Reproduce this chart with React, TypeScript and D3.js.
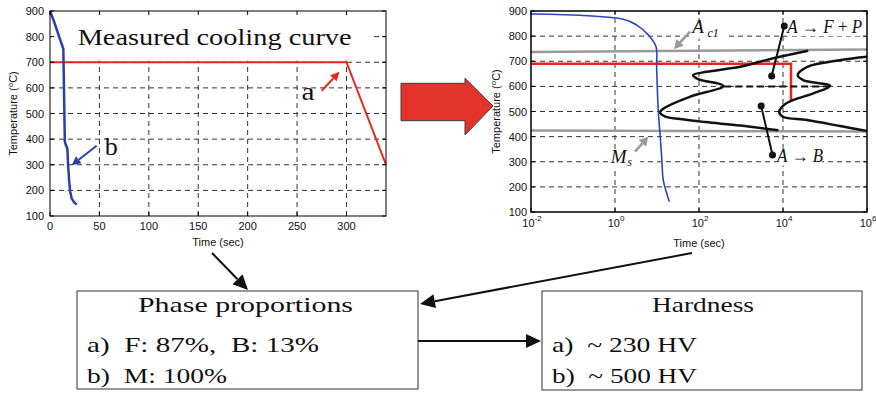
import React from "react";
import * as d3 from "d3";

// ---------- data ----------
const leftXTicks = [0, 50, 100, 150, 200, 250, 300];
const yTicks = [100, 200, 300, 400, 500, 600, 700, 800, 900];
const leftGridX = [50, 100, 150, 200, 250, 300];
const gridY = [200, 300, 400, 500, 600, 700, 800];

// curve b (fast quench), time in s, temperature in °C
const fastTime = [0, 4, 13.5, 15, 16, 17.6, 18.3, 19.3, 20.4, 22, 24.5, 27];
const fastTemp = [900, 860, 752, 390, 378, 362, 300, 240, 195, 168, 153, 145];
// curve a (slow cooling)
const slowTime = [0, 300, 340];
const slowTemp = [700, 700, 300];

// right (CCT/TTT) chart
const rightXExps = [-2, 0, 2, 4, 6];
const rightGridExps = [0, 2, 4];
const cctTime = [0.01, 1.58, 3.3, 6.2, 9.5, 9.8, 10.7, 11.8, 12.9, 14.1, 17.0, 19.6];
const cctTemp = [888, 867, 844, 805, 758, 678, 506, 413, 320, 227, 175, 141];
const isoTime = [0.01, 15500, 15500];
const isoTemp = [690, 690, 540];
const ac1Time = [0.01, 1e6];
const ac1Temp = [737, 747];
const msTime = [0.01, 1e6];
const msTemp = [424, 420];
const startLogTime = [4.6, 3.77, 2.98, 2.18, 1.86, 1.98, 2.58, 1.79, 1.23, 1.07, 1.2, 1.55, 2.15, 2.98, 3.89];
const startTemp = [742, 712, 678, 658, 645, 629, 602, 559, 519, 497, 480, 470, 458, 444, 425];
const finishLogTime = [6.0, 5.38, 4.58, 4.35, 4.48, 5.12, 4.72, 4.08, 3.91, 4.0, 4.57, 5.36, 6.0];
const finishTemp = [718, 705, 678, 645, 625, 602, 572, 533, 499, 479, 466, 442, 422];
const noseLogTime = [2.6, 5.1];
const noseTemp = [600, 600];

// boxes
const phaseTitle = "Phase proportions";
const phaseLines = ["a)  F: 87%,  B: 13%", "b)  M: 100%"];
const hardTitle = "Hardness";
const hardLines = ["a)  ~ 230 HV", "b)  ~ 500 HV"];

// ---------- scales ----------
const xL = d3.scaleLinear().domain([0, 340]).range([50, 386]);
const yL = d3.scaleLinear().domain([100, 900]).range([216, 11]);
const xR = d3.scaleLog().domain([1e-2, 1e6]).range([531, 867]);
const yR = d3.scaleLinear().domain([100, 900]).range([212, 11]);

const serif = "'Liberation Serif', 'Times New Roman', serif";
const sans = "'Liberation Sans', Arial, sans-serif";

function mkLine(xs: number[], ys: number[], fx: (v: number) => number, fy: (v: number) => number, curve: any = d3.curveLinear) {
  const pts = xs.map((x, i) => [x, ys[i]] as [number, number]);
  return d3.line<[number, number]>().x(d => fx(d[0])).y(d => fy(d[1])).curve(curve)(pts) || "";
}

function Arrow({ x1, y1, x2, y2, len, half, color, width }: any) {
  const a = Math.atan2(y2 - y1, x2 - x1);
  const bx = x2 - len * Math.cos(a);
  const by = y2 - len * Math.sin(a);
  const nx = -Math.sin(a), ny = Math.cos(a);
  const pts = `${x2},${y2} ${bx + half * nx},${by + half * ny} ${bx - half * nx},${by - half * ny}`;
  return (
    <g>
      <line x1={x1} y1={y1} x2={bx} y2={by} stroke={color} strokeWidth={width} />
      <polygon points={pts} fill={color} />
    </g>
  );
}

export default function App() {
  const lx0 = xL(0), lx1 = xL(340), ly0 = yL(100), ly1 = yL(900);
  const rx0 = xR(1e-2), rx1 = xR(1e6), ry0 = yR(100), ry1 = yR(900);
  const logT = (v: number) => xR(Math.pow(10, v));
  const pre = { whiteSpace: "pre" as const };

  return (
    <svg width={876} height={393} style={{ position: "absolute", left: 0, top: 0, background: "#fff" }}>
      {/* ---------------- LEFT CHART ---------------- */}
      <rect x={lx0} y={ly1} width={lx1 - lx0} height={ly0 - ly1} fill="#fff" />
      {leftGridX.map(t => (
        <line key={"lgx" + t} x1={xL(t)} x2={xL(t)} y1={ly0} y2={ly1} stroke="#333" strokeDasharray="5,4" strokeWidth={1} />
      ))}
      {gridY.map(t => (
        <line key={"lgy" + t} x1={lx0} x2={lx1} y1={yL(t)} y2={yL(t)} stroke="#333" strokeDasharray="5,4" strokeWidth={1} />
      ))}
      {/* title background */}
      <rect x={xL(1)} y={ly1 + 1} width={xL(326) - xL(1)} height={yL(710) - ly1} fill="#fff" />
      <text x={xL(28)} y={yL(767)} fontFamily={serif} fontSize={23} textLength={274} lengthAdjust="spacingAndGlyphs" fill="#111">Measured cooling curve</text>
      <path d={mkLine(slowTime, slowTemp, xL, yL)} fill="none" stroke="#e8261c" strokeWidth={2} />
      <path d={mkLine(fastTime, fastTemp, xL, yL)} fill="none" stroke="#2b3eb0" strokeWidth={2.5} />
      <rect x={lx0} y={ly1} width={lx1 - lx0} height={ly0 - ly1} fill="none" stroke="#000" strokeWidth={1} />
      {leftXTicks.map(t => (
        <g key={"ltx" + t}>
          <line x1={xL(t)} x2={xL(t)} y1={ly0} y2={ly0 - 4} stroke="#000" />
          <line x1={xL(t)} x2={xL(t)} y1={ly1} y2={ly1 + 4} stroke="#000" />
          <text x={xL(t)} y={ly0 + 14} textAnchor="middle" fontFamily={sans} fontSize={11} fill="#111">{t}</text>
        </g>
      ))}
      {yTicks.map(t => (
        <g key={"lty" + t}>
          <line x1={lx0} x2={lx0 + 4} y1={yL(t)} y2={yL(t)} stroke="#000" />
          <line x1={lx1} x2={lx1 - 4} y1={yL(t)} y2={yL(t)} stroke="#000" />
          <text x={lx0 - 6} y={yL(t) + 4} textAnchor="end" fontFamily={sans} fontSize={11} fill="#111">{t}</text>
        </g>
      ))}
      <text x={(lx0 + lx1) / 2} y={246} textAnchor="middle" fontFamily={sans} fontSize={11} fill="#111">Time (sec)</text>
      <text transform={`translate(17,${(ly0 + ly1) / 2}) rotate(-90)`} textAnchor="middle" fontFamily={sans} fontSize={11} fill="#111">
        Temperature (<tspan dy={-4} fontSize={8}>o</tspan><tspan dy={4}>C)</tspan>
      </text>
      {/* annotations a / b */}
      <text x={xL(254.5)} y={yL(552)} fontFamily={serif} fontSize={25} textLength={13} lengthAdjust="spacingAndGlyphs" fill="#111">a</text>
      <Arrow x1={xL(275)} y1={yL(589)} x2={xL(293)} y2={yL(663)} len={9} half={4.5} color="#e8261c" width={2} />
      <text x={xL(55.5)} y={yL(337)} fontFamily={serif} fontSize={25} textLength={13} lengthAdjust="spacingAndGlyphs" fill="#111">b</text>
      <Arrow x1={xL(47.2)} y1={yL(374)} x2={xL(21.9)} y2={yL(298)} len={9} half={4.5} color="#2b3eb0" width={2} />

      {/* ---------------- BIG RED ARROW ---------------- */}
      <polygon points="401,83.3 465,83.3 465,78.3 493,106 465,135 465,120.7 401,120.7" fill="#e3332a" stroke="#4a3a3a" strokeWidth={1} />

      {/* ---------------- RIGHT CHART ---------------- */}
      {rightGridExps.map(e => (
        <line key={"rgx" + e} x1={xR(Math.pow(10, e))} x2={xR(Math.pow(10, e))} y1={ry0} y2={ry1} stroke="#333" strokeDasharray="5,4" strokeWidth={1} />
      ))}
      {gridY.map(t => (
        <line key={"rgy" + t} x1={rx0} x2={rx1} y1={yR(t)} y2={yR(t)} stroke="#333" strokeDasharray="5,4" strokeWidth={1} />
      ))}
      <path d={mkLine(ac1Time, ac1Temp, xR, yR)} fill="none" stroke="#9a9a9a" strokeWidth={2.5} />
      <path d={mkLine(msTime, msTemp, xR, yR)} fill="none" stroke="#9a9a9a" strokeWidth={2.5} />
      <path d={mkLine(isoTime, isoTemp, xR, yR)} fill="none" stroke="#e8261c" strokeWidth={2.5} />
      <path d={mkLine(startLogTime, startTemp, logT, yR, d3.curveCatmullRom.alpha(0.5))} fill="none" stroke="#111" strokeWidth={2.5} />
      <path d={mkLine(finishLogTime, finishTemp, logT, yR, d3.curveCatmullRom.alpha(0.5))} fill="none" stroke="#111" strokeWidth={2.5} />
      <path d={mkLine(noseLogTime, noseTemp, logT, yR)} fill="none" stroke="#111" strokeWidth={2} strokeDasharray="7,4" />
      <path d={mkLine(cctTime, cctTemp, xR, yR, d3.curveCatmullRom.alpha(0.5))} fill="none" stroke="#2f45c0" strokeWidth={1.6} />

      {/* annotation A -> F + P */}
      <rect x={logT(4.08)} y={yR(860)} width={rx1 - logT(4.08) - 1} height={yR(800) - yR(860)} fill="#fff" />
      <text x={logT(4.1)} y={yR(812)} fontFamily={serif} fontSize={18} textLength={75} lengthAdjust="spacingAndGlyphs" fill="#111">
        <tspan fontStyle="italic">A</tspan> → <tspan fontStyle="italic">F</tspan> + <tspan fontStyle="italic">P</tspan>
      </text>
      <line x1={logT(4.03)} y1={yR(840)} x2={logT(3.73)} y2={yR(641)} stroke="#111" strokeWidth={2} />
      <circle cx={logT(4.03)} cy={yR(840)} r={3.5} fill="#111" />
      <circle cx={logT(3.73)} cy={yR(641)} r={3.5} fill="#111" />

      {/* annotation A -> B */}
      <rect x={logT(3.84)} y={yR(350)} width={logT(4.93) - logT(3.84)} height={yR(285) - yR(350)} fill="#fff" />
      <text x={logT(3.86)} y={yR(300)} fontFamily={serif} fontSize={18} textLength={46} lengthAdjust="spacingAndGlyphs" fill="#111">
        <tspan fontStyle="italic">A</tspan> → <tspan fontStyle="italic">B</tspan>
      </text>
      <line x1={logT(3.48)} y1={yR(522)} x2={logT(3.75)} y2={yR(327)} stroke="#111" strokeWidth={2} />
      <circle cx={logT(3.48)} cy={yR(522)} r={3.5} fill="#111" />
      <circle cx={logT(3.75)} cy={yR(327)} r={3.5} fill="#111" />

      {/* A_c1 */}
      <rect x={logT(1.8)} y={yR(860)} width={logT(2.62) - logT(1.8)} height={yR(790) - yR(860)} fill="#fff" />
      <text x={logT(1.84)} y={yR(812)} fontFamily={serif} fontSize={19} fontStyle="italic" fill="#111">A</text>
      <text x={logT(2.2)} y={yR(797)} fontFamily={serif} fontSize={12} fontStyle="italic" fill="#111">c1</text>
      <Arrow x1={logT(1.786)} y1={yR(818)} x2={logT(1.405)} y2={yR(749)} len={9} half={5} color="#9a9a9a" width={2.5} />

      {/* M_s */}
      <rect x={logT(-0.12)} y={yR(350)} width={logT(0.6) - logT(-0.12)} height={yR(280) - yR(350)} fill="#fff" />
      <text x={logT(-0.1)} y={yR(295)} fontFamily={serif} fontSize={19} fontStyle="italic" fill="#111">M</text>
      <text x={logT(0.29)} y={yR(283)} fontFamily={serif} fontSize={12} fontStyle="italic" fill="#111">s</text>
      <Arrow x1={logT(0.476)} y1={yR(340)} x2={logT(0.793)} y2={yR(400)} len={9} half={5} color="#9a9a9a" width={2.5} />

      <rect x={rx0} y={ry1} width={rx1 - rx0} height={ry0 - ry1} fill="none" stroke="#000" strokeWidth={1.5} />
      {rightXExps.map(e => (
        <g key={"rtx" + e}>
          <line x1={xR(Math.pow(10, e))} x2={xR(Math.pow(10, e))} y1={ry0} y2={ry0 - 4} stroke="#000" />
          <line x1={xR(Math.pow(10, e))} x2={xR(Math.pow(10, e))} y1={ry1} y2={ry1 + 4} stroke="#000" />
          <text x={xR(Math.pow(10, e)) + 1} y={ry0 + 15} textAnchor="middle" fontFamily={sans} fontSize={11} fill="#111">
            10<tspan dy={-6} fontSize={8}>{e}</tspan>
          </text>
        </g>
      ))}
      {yTicks.map(t => (
        <g key={"rty" + t}>
          <line x1={rx0} x2={rx0 + 4} y1={yR(t)} y2={yR(t)} stroke="#000" />
          <line x1={rx1} x2={rx1 - 4} y1={yR(t)} y2={yR(t)} stroke="#000" />
          <text x={rx0 - 4} y={yR(t) + 4} textAnchor="end" fontFamily={sans} fontSize={11} fill="#111">{t}</text>
        </g>
      ))}
      <text x={(rx0 + rx1) / 2} y={247} textAnchor="middle" fontFamily={sans} fontSize={11} fill="#111">Time (sec)</text>
      <text transform={`translate(500,${(ry0 + ry1) / 2}) rotate(-90)`} textAnchor="middle" fontFamily={sans} fontSize={11} fill="#111">
        Temperature (<tspan dy={-4} fontSize={8}>o</tspan><tspan dy={4}>C)</tspan>
      </text>

      {/* ---------------- BOXES ---------------- */}
      <rect x={77} y={291} width={341} height={98} fill="#fff" stroke="#333" strokeWidth={1} />
      <text x={138} y={312} fontFamily={serif} fontSize={21} textLength={215} lengthAdjust="spacingAndGlyphs" fill="#111">{phaseTitle}</text>
      {phaseLines.map((l, i) => (
        <text key={"pl" + i} x={87} y={352 + i * 31} style={pre} fontFamily={serif} fontSize={21} textLength={i === 0 ? 232 : 140} lengthAdjust="spacingAndGlyphs" fill="#111">{l}</text>
      ))}
      <rect x={542} y={291} width={320} height={99} fill="#fff" stroke="#333" strokeWidth={1} />
      <text x={652} y={312} fontFamily={serif} fontSize={21} textLength={102} lengthAdjust="spacingAndGlyphs" fill="#111">{hardTitle}</text>
      {hardLines.map((l, i) => (
        <text key={"hl" + i} x={552} y={352 + i * 31} style={pre} fontFamily={serif} fontSize={21} textLength={145} lengthAdjust="spacingAndGlyphs" fill="#111">{l}</text>
      ))}

      {/* connecting arrows */}
      <Arrow x1={212} y1={253} x2={248} y2={290} len={15} half={7} color="#111" width={2} />
      <Arrow x1={692} y1={253} x2={420} y2={304} len={15} half={7} color="#111" width={2} />
      <Arrow x1={418} y1={341} x2={541} y2={341} len={15} half={7} color="#111" width={2} />
    </svg>
  );
}
